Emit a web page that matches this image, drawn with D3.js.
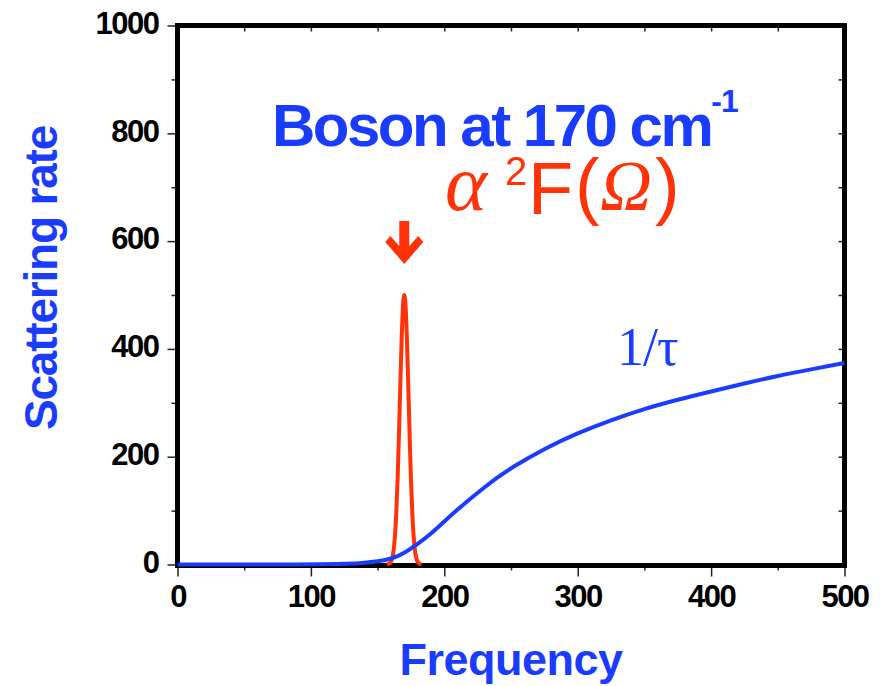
<!DOCTYPE html>
<html>
<head>
<meta charset="utf-8">
<script src="https://cdn.jsdelivr.net/npm/d3@7"></script>
<style>
  body { margin: 0; background: #fff; }
  svg { display: block; }
  .tick text { font-family: "Liberation Sans", Arial, sans-serif; font-weight: bold; font-size: 31px; letter-spacing: -1.5px; fill: #000; }
  .tick line { stroke: #222; stroke-width: 1.5; }
</style>
</head>
<body>
<svg width="892" height="686"></svg>
<script>
// frequency grid and values
const tauFreq = [0, 100, 130, 140, 150, 160, 170, 180, 190, 200, 210, 220, 230, 240, 250, 275, 300, 325, 350, 375, 400, 425, 450, 475, 500];
const tauRate = [0, 0, 1, 3, 6, 10, 21, 38, 57, 80, 102, 123, 143, 162, 179, 215, 244, 268, 289, 306, 321, 336, 350, 362, 374];

const a2fFreq = [157, 158, 159, 160, 161, 162, 163, 164, 165, 166, 167, 168, 169, 170, 171, 172, 173, 174, 175, 176, 177, 178, 179, 180, 181, 182, 183];
const a2fVal  = [0, 1, 2, 5, 12, 26, 53, 96, 159, 240, 331, 416, 478, 500, 478, 416, 331, 240, 159, 96, 53, 26, 12, 5, 2, 1, 0];

const xMajor = [0, 100, 200, 300, 400, 500];
const xMinor = [50, 150, 250, 350, 450];
const yMajor = [0, 200, 400, 600, 800, 1000];
const yMinor = [100, 300, 500, 700, 900];

const bosonAt = 170;

(function(d3) {
  'use strict';

  const blue = '#1a3cff';
  const red = '#ff3208';
  const sans = '"Liberation Sans", Arial, sans-serif';
  const serif = '"Liberation Serif", "Times New Roman", serif';

  const svg = d3.select('svg');

  const x = d3.scaleLinear().domain([0, 500]).range([177.5, 844.5]);
  const y = d3.scaleLinear().domain([0, 1000]).range([564.5, 25.5]);

  // minor ticks first, majors drawn on top
  const axes = svg.append('g');

  axes.append('g').attr('transform', `translate(0,${y(0) + 1})`)
    .call(d3.axisBottom(x).tickValues(xMinor).tickSize(5).tickFormat(''));
  axes.append('g').attr('transform', `translate(0,${y(0) + 1})`)
    .call(d3.axisBottom(x).tickValues(xMajor).tickSize(11).tickFormat(d3.format('d')))
    .selectAll('text').attr('y', 41).attr('dy', 0);

  axes.append('g').attr('transform', `translate(${x(0)},0)`)
    .call(d3.axisLeft(y).tickValues(yMinor).tickSize(6).tickFormat(''));
  axes.append('g').attr('transform', `translate(${x(0)},0)`)
    .call(d3.axisLeft(y).tickValues(yMajor).tickSize(10).tickPadding(9).tickFormat(d3.format('d')))
    .selectAll('text').attr('dy', '0.25em');

  // mirrored inside ticks on top and right
  axes.append('g').attr('transform', `translate(0,${y(1000)})`)
    .call(d3.axisBottom(x).tickValues(xMinor.concat(xMajor)).tickSize(6).tickFormat(''));
  axes.append('g').attr('transform', `translate(${x(500)},0)`)
    .call(d3.axisLeft(y).tickValues(yMinor.concat(yMajor)).tickSize(6).tickFormat(''));

  axes.selectAll('.domain').remove();

  // frame
  svg.append('rect')
    .attr('x', x(0)).attr('y', y(1000))
    .attr('width', x(500) - x(0)).attr('height', y(0) + 1 - y(1000))
    .attr('fill', 'none').attr('stroke', '#000').attr('stroke-width', 5);

  const line = d3.line().x(d => x(d[0])).y(d => y(d[1])).curve(d3.curveMonotoneX);

  svg.append('path')
    .datum(a2fFreq.map((f, i) => [f, a2fVal[i]]))
    .attr('d', line)
    .attr('fill', 'none').attr('stroke', red).attr('stroke-width', 4);

  svg.append('path')
    .datum(tauFreq.map((f, i) => [f, tauRate[i]]))
    .attr('d', line.curve(d3.curveBasis))
    .attr('fill', 'none').attr('stroke', blue).attr('stroke-width', 4);

  // arrow over the peak
  const ax = x(bosonAt);
  svg.append('polygon')
    .attr('points', [
      [ax - 5, 221], [ax + 5, 221], [ax + 5, 246], [ax + 14, 236], [ax + 19, 242],
      [ax, 264], [ax - 19, 242], [ax - 14, 236], [ax - 5, 246]
    ].join(' '))
    .attr('fill', red);

  // labels
  svg.append('text')
    .attr('x', 511).attr('y', 675)
    .attr('text-anchor', 'middle')
    .style('font-family', sans).style('font-weight', 'bold')
    .style('font-size', '45px').style('letter-spacing', '-0.5px')
    .attr('fill', blue)
    .text('Frequency');

  svg.append('text')
    .attr('transform', 'translate(57,278) rotate(-90)')
    .attr('text-anchor', 'middle')
    .style('font-family', sans).style('font-weight', 'bold')
    .style('font-size', '46px').style('letter-spacing', '-1.2px')
    .attr('fill', blue)
    .text('Scattering rate');

  const title = svg.append('text')
    .attr('x', 272).attr('y', 146)
    .style('font-family', sans).style('font-weight', 'bold')
    .style('font-size', '60px').style('letter-spacing', '-2.5px')
    .attr('fill', blue);
  title.append('tspan').text('Boson at 170 cm');
  title.append('tspan').attr('dy', -34).style('font-size', '32px').style('letter-spacing', '-1px').text('-1');

  const formula = svg.append('g').attr('fill', red);
  formula.append('text').attr('x', 445).attr('y', 210)
    .style('font-family', serif).style('font-style', 'italic').style('font-size', '80px').text('α');
  formula.append('text').attr('x', 505).attr('y', 185)
    .style('font-family', sans).style('font-size', '40px').text('2');
  formula.append('text').attr('x', 528).attr('y', 214)
    .style('font-family', sans).style('font-size', '74px').text('F');
  formula.append('text').attr('x', 575).attr('y', 211)
    .style('font-family', sans).style('font-size', '74px').text('(');
  formula.append('text').attr('x', 600).attr('y', 210)
    .style('font-family', serif).style('font-style', 'italic').style('font-size', '72px').text('Ω');
  formula.append('text').attr('x', 655).attr('y', 211)
    .style('font-family', sans).style('font-size', '74px').text(')');

  svg.append('text')
    .attr('x', 617).attr('y', 365)
    .style('font-family', serif).style('font-size', '54px').style('letter-spacing', '-1px')
    .attr('fill', blue)
    .text('1/τ');

}(d3));
</script>
</body>
</html>
